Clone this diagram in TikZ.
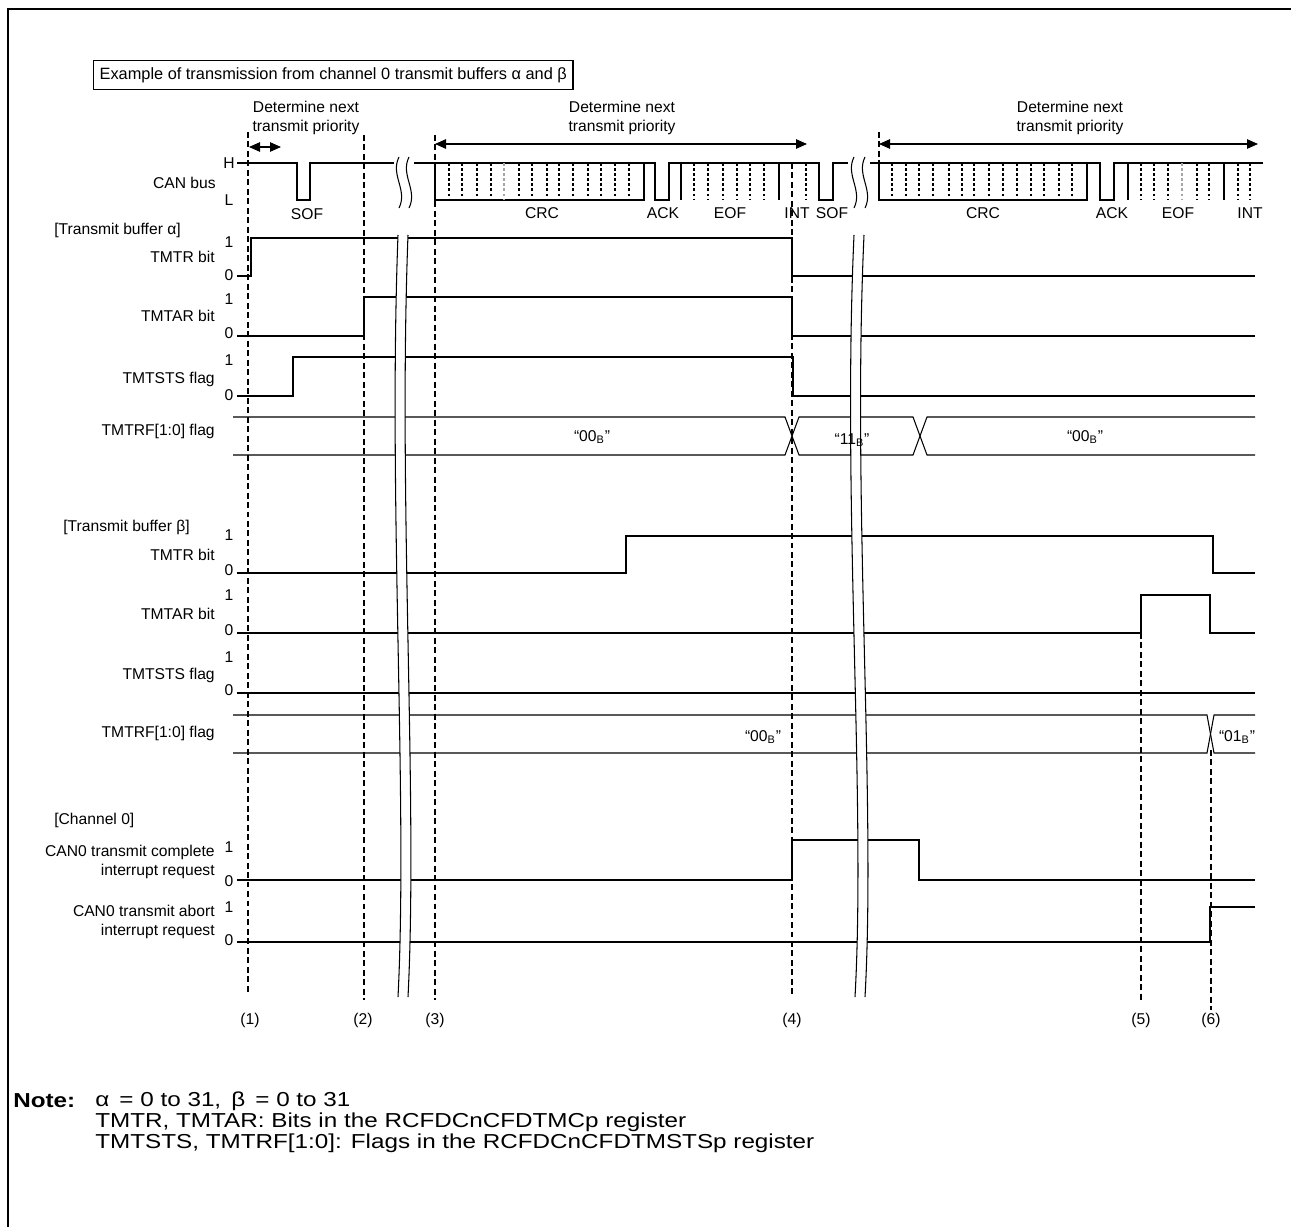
\documentclass[tikz,border=0pt]{standalone}
\usepackage{fontspec}
\setmainfont{Liberation Sans}
\newfontfamily\notefont{Liberation Sans}[FakeStretch=1.2]
\usepackage{tikz}
\usetikzlibrary{arrows.meta}
\definecolor{bitgray}{RGB}{165,165,165}

\begin{document}
\begin{tikzpicture}[x=0.02cm,y=-0.02cm,font=\fontsize{8.9}{11.3}\selectfont,
		wave/.style={line width=0.6pt},
		cutline/.style={dash pattern=on 3.4pt off 2pt,line width=1.1pt},
		bitdiv/.style={dash pattern=on 1.6pt off 1.3pt,line width=0.9pt},
		prioarrow/.style={line width=0.6pt,{Triangle[length=0.22cm,width=0.19cm]}-{Triangle[length=0.22cm,width=0.19cm]}},
		signame/.style={anchor=east,align=right,inner sep=0pt},
		grpname/.style={anchor=west,inner sep=0pt},
		lvl/.style={inner sep=0pt},
		notetext/.style={anchor=west,inner sep=0pt,font=\notefont\fontsize{11.5}{13}\selectfont}]
			\pgfmathsetmacro{\xA}{248}
			\pgfmathsetmacro{\xB}{364}
			\pgfmathsetmacro{\xC}{435}
			\pgfmathsetmacro{\xD}{792}
			\pgfmathsetmacro{\xE}{1141}
			\pgfmathsetmacro{\xF}{1211}
			\pgfmathsetmacro{\xend}{1255}
			\pgfmathsetmacro{\hi}{163}
			\pgfmathsetmacro{\lo}{200}
			\useasboundingbox (0,0) rectangle (1291,1227);
			\draw[line width=1.7pt] (8,1227) -- (8,9) -- (1291,9);
			\node[draw,line width=0.6pt,inner xsep=3.5pt,inner ysep=4pt,anchor=west,font=\fontsize{9.3}{11}\selectfont] (title) at (93,75) {Example of transmission from channel 0 transmit buffers α and β};
			\node[align=center] (prioA) at (306,118) {Determine next\\transmit priority};
			\node[align=center] (prioB) at (622,118) {Determine next\\transmit priority};
			\node[align=center] (prioC) at (1070,118) {Determine next\\transmit priority};
			\draw[prioarrow] (249,147) -- (281,147);
			\draw[prioarrow] (\xC,144) -- (807,144);
			\draw[prioarrow] (879,144) -- (1258,144);
			\draw[wave] (237,\hi) -- (297,\hi) -- (297,\lo) -- (310,\lo) -- (310,\hi) -- (655,\hi) -- (655,\lo) -- (669,\lo) -- (669,\hi) -- (819,\hi) -- (819,\lo) -- (833,\lo) -- (833,\hi) -- (1100,\hi) -- (1100,\lo) -- (1114,\lo) -- (1114,\hi) -- (1263,\hi);
			\draw[wave] (\xC,\hi) rectangle (644,\lo);
			\draw[wave] (879,\hi) rectangle (1087,\lo);
			\foreach \x in {681,779,1128,1224}
				\draw[wave] (\x,\hi) -- (\x,\lo);
			\foreach \x in {449,462,477,491,519,532,547,559,573,588,601,615,629,694,708,723,737,750,764,806,892,906,919,933,949,962,974,989,1003,1017,1031,1044,1059,1072,1141,1154,1168,1197,1209,1238,1250}
				\draw[bitdiv] (\x,\hi) -- (\x,\lo);
			\foreach \x in {504,1182}
				\draw[bitdiv,bitgray] (\x,\hi) -- (\x,\lo);
			\fill[white] (394,155) rectangle (414,210);
			\fill[white] (848,155) rectangle (870,210);
			\foreach \x in {399,409,854,865}
				\draw[wave] (\x,157) .. controls (\x-9,175) and (\x+9,190) .. (\x,208);
			\draw[wave] (237,276) -- (251,276) -- (251,238) -- (\xD,238) -- (\xD,276) -- (\xend,276);
			\draw[wave] (237,336) -- (\xB,336) -- (\xB,297) -- (\xD,297) -- (\xD,336) -- (\xend,336);
			\draw[wave] (237,396) -- (293,396) -- (293,357) -- (793,357) -- (793,396) -- (\xend,396);
			\draw[wave] (233,417) -- (785,417) -- (799,455) -- (913,455) -- (927,417) -- (\xend,417);
			\draw[wave] (233,455) -- (785,455) -- (799,417) -- (913,417) -- (927,455) -- (\xend,455);
			\draw[wave] (237,573) -- (626,573) -- (626,536) -- (1213,536) -- (1213,573) -- (\xend,573);
			\draw[wave] (237,633) -- (\xE,633) -- (\xE,595) -- (1210,595) -- (1210,633) -- (\xend,633);
			\draw[wave] (237,693) -- (\xend,693);
			\draw[wave] (233,715) -- (1207,715) -- (1214,753) -- (\xend,753);
			\draw[wave] (233,753) -- (1207,753) -- (1214,715) -- (\xend,715);
			\draw[wave] (237,880) -- (\xD,880) -- (\xD,840) -- (919,840) -- (919,880) -- (\xend,880);
			\draw[wave] (237,942) -- (1210,942) -- (1210,907) -- (\xend,907);
			\fill[white] (398,235) .. controls (388,500) and (408,800) .. (398,997) -- (408,997) .. controls (418,800) and (398,500) .. (408,235) -- cycle;
			\fill[white] (854,235) .. controls (842,500) and (866,800) .. (855,997) -- (865,997) .. controls (876,800) and (852,500) .. (864,235) -- cycle;
			\foreach \x in {0,10} {
				\draw[wave] (398+\x,235) .. controls (388+\x,500) and (408+\x,800) .. (398+\x,997);
				\draw[wave] (854+\x,235) .. controls (842+\x,500) and (866+\x,800) .. (855+\x,997);
			}
			\draw[cutline] (\xA,132) -- (\xA,995);
			\draw[cutline] (\xB,135) -- (\xB,1000);
			\draw[cutline] (\xC,135) -- (\xC,1000);
			\draw[cutline] (\xD,163) -- (\xD,997);
			\draw[cutline] (\xE,633) -- (\xE,1003);
			\draw[cutline] (\xF,750) -- (\xF,1010);
			\draw[cutline] (879,132) -- (879,163);
			\node[signame] (canbus) at (216,183) {CAN bus};
			\node[lvl] (canH) at (229,\hi) {H};
			\node[lvl] (canL) at (229,\lo) {L};
			\node (sofA) at (307,214) {SOF};
			\node (crcA) at (542,213) {CRC};
			\node (ackA) at (663,213) {ACK};
			\node (eofA) at (730,213) {EOF};
			\node (intA) at (797,213) {INT};
			\node (sofB) at (832,213) {SOF};
			\node (crcB) at (983,213) {CRC};
			\node (ackB) at (1112,213) {ACK};
			\node (eofB) at (1178,213) {EOF};
			\node (intB) at (1250,213) {INT};
			\node[grpname] (bufa) at (54,230) {[Transmit buffer α]};
			\node[signame] (trA) at (215,257) {TMTR bit};
			\node[signame] (arA) at (215,316) {TMTAR bit};
			\node[signame] (stsA) at (215,379) {TMTSTS flag};
			\node[signame] (rfA) at (215,431) {TMTRF[1:0] flag};
			\node[grpname] (bufb) at (63,527) {[Transmit buffer β]};
			\node[signame] (trB) at (215,555) {TMTR bit};
			\node[signame] (arB) at (215,614) {TMTAR bit};
			\node[signame] (stsB) at (215,675) {TMTSTS flag};
			\node[signame] (rfB) at (215,733) {TMTRF[1:0] flag};
			\node[grpname] (chan) at (54,820) {[Channel 0]};
			\node[signame] (cplt) at (215,862) {CAN0 transmit complete\\interrupt request};
			\node[signame] (abrt) at (215,922) {CAN0 transmit abort\\interrupt request};
			\foreach \y/\v [count=\i] in {242/1,275/0,299/1,333/0,360/1,395/0,535/1,570/0,595/1,630/0,657/1,690/0,847/1,881/0,907/1,940/0}
				\node[lvl] (lv\i) at (229,\y) {\v};
			\node (valA) at (592,437) {“00\textsubscript{B}”};
			\node (valB) at (852,440) {“11\textsubscript{B}”};
			\node (valC) at (1085,437) {“00\textsubscript{B}”};
			\node (valD) at (763,737) {“00\textsubscript{B}”};
			\node (valE) at (1237,737) {“01\textsubscript{B}”};
			\node (mA) at (250,1020) {(1)};
			\node (mB) at (363,1020) {(2)};
			\node (mC) at (435,1020) {(3)};
			\node (mD) at (792,1020) {(4)};
			\node (mE) at (1141,1020) {(5)};
			\node (mF) at (1211,1020) {(6)};
			\node[notetext,font=\notefont\fontsize{11.5}{13}\selectfont\bfseries] (notehd) at (13,1101) {Note:};
			\node[notetext] (noteA) at (95,1101) {α\, = 0 to 31,\, β\, = 0 to 31};
			\node[notetext] (noteB) at (95,1122) {TMTR, TMTAR: Bits in the RCFDCnCFDTMCp register};
			\node[notetext] (noteC) at (95,1143) {TMTSTS, TMTRF[1:0]: Flags in the RCFDCnCFDTMSTSp register};
		\end{tikzpicture}
\end{document}
